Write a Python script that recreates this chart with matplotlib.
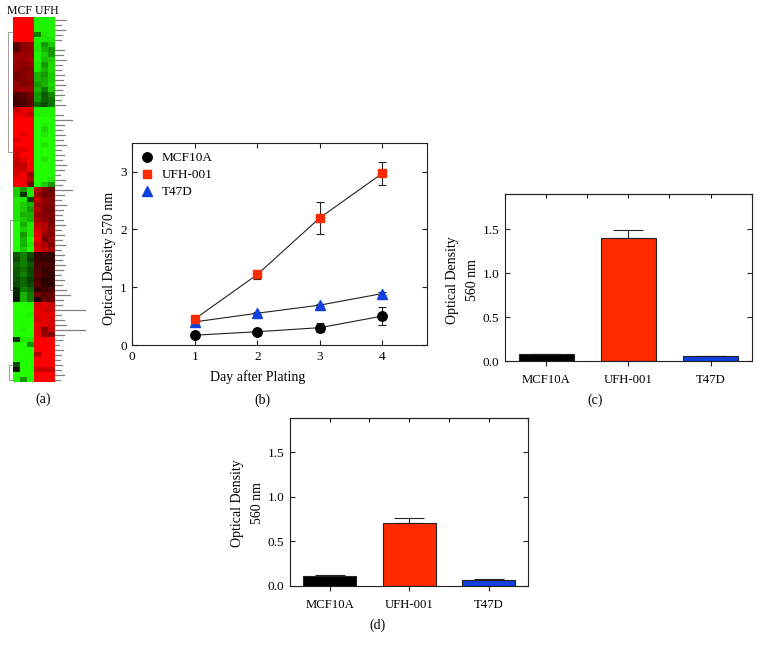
import matplotlib
matplotlib.use('Agg')
import matplotlib.pyplot as plt
from matplotlib.colors import LinearSegmentedColormap
from matplotlib.lines import Line2D

plt.rcParams['font.family'] = ['Liberation Serif', 'DejaVu Serif']
plt.rcParams['font.size'] = 9

W, H = 760, 651

# (a) heatmap, one row per 5 px, + is red, - is green
mcf_rows = [
    [1, 1, 1], [1, 1, 1], [1, 1, 1], [1, 1, 1], [1, 1, 1],
    [.35, .55, .6], [.3, .55, .6], [.6, .6, .6], [.6, .6, .65], [.6, .55, .6],
    [.55, .5, .5], [.45, .5, .55], [.5, .5, .55], [.6, .5, .55], [.6, .65, .6],
    [.3, .35, .45], [.25, .3, .4], [.25, .3, .4], [.8, .9, .9], [.9, .9, .75],
    [1, 1, 1], [1, 1, 1], [1, 1, 1], [1, .9, 1], [.9, 1, 1],
    [1, 1, 1], [.9, .9, 1], [.85, 1, 1], [.8, .9, 1], [.75, .75, 1],
    [.8, .8, .95], [.85, .95, .6], [.95, .95, .7], [1, .95, .4],
    [-.8, -.6, -.9], [-.8, -.2, -.9], [-.9, -.9, -.25],
    [-.9, -.8, -.7], [-.9, -.8, -.6], [-.9, -.7, -.7], [-.9, -.8, -.7],
    [-1, -.7, -.9], [-1, -.8, -.9], [-1, -.6, -.9], [-1, -.7, -1], [-1, -.7, -.9], [-1, -.8, -1],
    [-.35, -.5, -.3], [-.3, -.5, -.25], [-.4, -.5, -.35], [-.35, -.45, -.3], [-.35, -.5, -.3],
    [-.3, -.4, -.25], [-.3, -.4, -.3], [-.15, -.5, -.4], [-.15, -.7, -.5], [-.1, -.7, -.5],
    [-1, -1, -.95], [-1, -1, -1], [-1, -1, -.95], [-1, -1, -1], [-1, -1, -1], [-1, -.95, -1], [-1, -1, -1],
    [-.2, -.9, -.9], [-1, -1, -.6], [-1, -1, -1], [-1, -1, -1], [-1, -1, -1],
    [-.3, -1, -1], [-.1, -1, -1], [-1, -1, -1], [-1, -.6, -1],
]
ufh_rows = [
    [-.95, -.95, -.95], [-.95, -.95, -.95], [-.95, -.95, -.95], [-.5, -.9, -.95], [-.95, -.9, -.9],
    [-.9, -.6, -.8], [-.9, -.7, -.6], [-.95, -.8, -.6], [-.95, -.75, -.8], [-.9, -.6, -.85],
    [-.9, -.7, -.85], [-.7, -.6, -.8], [-.7, -.65, -.8], [-.6, -.7, -.85], [-.7, -.5, -.8],
    [-.6, -.35, -.55], [-.6, -.4, -.45], [-.4, -.3, -.45], [-.95, -.95, -.95], [-.95, -.95, -.95],
    [-1, -1, -1], [-1, -.95, -1], [-1, -.85, -1], [-1, -.9, -1], [-1, -1, -1],
    [-1, -.9, -1], [-1, -1, -1], [-1, -1, -1], [-1, -.9, -1], [-1, -1, -1],
    [-1, -1, -1], [-1, -1, -1], [-1, -1, -.9], [-1, -.8, -.6],
    [.7, .5, .4], [.6, .45, .45], [.75, .55, .5],
    [.6, .55, .5], [.7, .5, .45], [.6, .5, .5], [.65, .55, .45],
    [.75, .7, .5], [.85, .7, .55], [.9, .6, .5], [.95, .45, .6], [.8, .7, .5], [.85, .75, .65],
    [.2, .25, .2], [.25, .2, .2], [.3, .3, .25], [.3, .2, .25], [.35, .25, .2],
    [.3, .15, .2], [.35, .2, .15], [.2, .25, .3], [.45, .35, .4], [.15, .4, .4],
    [.85, .9, .8], [.9, .85, .8], [.9, .9, .9], [.85, .9, .85], [.9, .9, .85], [.9, .55, .8], [.9, .6, .5],
    [1, 1, 1], [1, 1, 1], [1, 1, 1], [.7, 1, 1], [1, 1, 1],
    [1, 1, 1], [.8, .8, .8], [1, 1, 1], [1, 1, 1],
]
# label blocks right of the heatmap are too small to read, so only their length is kept
label_lengths = [
    11, 6, 10, 7, 6, 0, 9, 8, 11, 7, 6, 9, 8, 10, 7, 9, 6, 10, 0, 8,
    17, 9, 7, 10, 8, 11, 6, 9, 7, 11, 9, 5, 10, 7,
    17, 9, 6, 11, 8, 7, 8, 10, 6, 9, 7, 10, 6, 9, 7, 10, 8, 6, 9, 7, 11, 15, 8,
    7, 30, 6, 9, 11, 30, 9, 7, 4, 8, 6, 5, 7, 6, 9, 5,
]
# dendrogram brackets, in heatmap columns and rows
dendro_x = [[-0.5, -1.1, -1.1, -0.5], [-0.5, -0.86, -0.86, -0.5], [-0.5, -1.0, -1.0, -0.5]]
dendro_y = [[2.5, 2.5, 26.5, 26.5], [40, 40, 54, 54], [69, 69, 72, 72]]

# (b) growth curves
days = [1, 2, 3, 4]
mcf_growth = [0.17, 0.23, 0.30, 0.50]
mcf_growth_err = [0.03, 0.04, 0.08, 0.15]
ufh_growth = [0.45, 1.22, 2.20, 2.97]
ufh_growth_err = [0.03, 0.07, 0.28, 0.20]
t47d_growth = [0.40, 0.55, 0.69, 0.89]
t47d_growth_err = [0.01, 0.02, 0.02, 0.02]

# (c), (d) bars
cell_lines = ['MCF10A', 'UFH-001', 'T47D']
c_values = [0.08, 1.40, 0.06]
c_errors = [0.005, 0.09, 0.005]
d_values = [0.11, 0.71, 0.065]
d_errors = [0.01, 0.05, 0.005]

RED = '#ff2a00'
BLUE = '#1040e0'
BAR_COLORS = ['black', RED, BLUE]
LW = 0.8


def px_axes(fig, left, top, right, bottom):
    return fig.add_axes([left / W, 1 - bottom / H, (right - left) / W, (bottom - top) / H])


def caption(fig, x, y, s):
    fig.text(x / W, 1 - y / H, s, ha='center', va='center', fontsize=10)


def style(ax):
    for sp in ax.spines.values():
        sp.set_linewidth(LW)
        sp.set_color('#222222')
    ax.tick_params(width=LW, length=3.5, labelsize=9.5, color='#222222', pad=4)


def bar_panel(ax, values, errors, ylim, label_xy):
    style(ax)
    ax.bar(range(3), values, width=0.67, color=BAR_COLORS, edgecolor='#222222', linewidth=LW,
           yerr=[[0, 0, 0], errors], error_kw=dict(ecolor='#222222', elinewidth=LW, capsize=11, capthick=LW))
    ax.set_xlim(-0.5, 2.5)
    ax.set_ylim(0, ylim)
    ax.set_yticks([0, 0.5, 1.0, 1.5])
    ax.set_yticklabels(['0.0', '0.5', '1.0', '1.5'])
    ax.set_xticks(range(3))
    ax.set_xticklabels(cell_lines, fontsize=9.2)
    ax.tick_params(axis='y', direction='in', left=True, right=True)
    ax.tick_params(axis='x', direction='out', bottom=True, pad=6)
    ax.secondary_xaxis('top').tick_params(direction='in', labeltop=False, width=LW, length=3)
    ax.set_ylabel('Optical Density\n560 nm', fontsize=10, linespacing=1.7, ha='center')
    ax.yaxis.set_label_coords(*label_xy)


fig = plt.figure(figsize=(W / 100, H / 100), dpi=100)

# panel a
cmap = LinearSegmentedColormap.from_list('rbg', ['#22ff00', 'black', '#ff0000'])
ax = px_axes(fig, 12.5, 17.3, 54, 382)
rows = [m + u for m, u in zip(mcf_rows, ufh_rows)]
ax.imshow(rows, cmap=cmap, vmin=-1, vmax=1, aspect='auto', interpolation='nearest')
for i, n in enumerate(label_lengths):
    if n:
        # 6 columns wide over 41.5 px
        ax.plot([5.65, 5.65 + n * 6 / 41.5], [i, i], color='#808080', lw=0.9, clip_on=False)
for xs, ys in zip(dendro_x, dendro_y):
    ax.plot(xs, ys, color='#777777', lw=0.5, clip_on=False)
ax.set_xlim(-0.5, 5.5)
ax.set_ylim(72.5, -0.5)
ax.axis('off')
fig.text(33 / W, 1 - 10.5 / H, 'MCF UFH', ha='center', va='center', fontsize=8.5)
caption(fig, 43, 399, '(a)')

# panel b
ax = px_axes(fig, 132.3, 143.3, 426.7, 345)
style(ax)
err_kw = dict(ecolor='#222222', elinewidth=LW, capsize=3, capthick=LW, color='#222222', lw=LW)
ax.errorbar(days, mcf_growth, yerr=mcf_growth_err, marker='o', ms=6.8, mfc='black', mec='black',
            zorder=2, **err_kw)
ax.errorbar(days, t47d_growth, yerr=t47d_growth_err, marker='^', ms=7, mfc=BLUE, mec=BLUE,
            zorder=2, **err_kw)
ax.errorbar(days, ufh_growth, yerr=ufh_growth_err, marker='s', ms=6.2, mfc=RED, mec=RED,
            zorder=3, **err_kw)
ax.set_xlim(0, 4.71)
ax.set_ylim(0, 3.49)
ax.set_xticks([0, 1, 2, 3, 4])
ax.set_yticks([0, 1, 2, 3])
ax.tick_params(direction='in', top=True, right=True)
ax.set_xlabel('Day after Plating', fontsize=10)
ax.xaxis.set_label_coords(0.426, -0.125)
ax.set_ylabel('Optical Density 570 nm', fontsize=10)
ax.yaxis.set_label_coords(-0.056, 0.431)
hs = [Line2D([], [], ls='none', marker='o', ms=6.8, color='black'),
      Line2D([], [], ls='none', marker='s', ms=6.2, color=RED),
      Line2D([], [], ls='none', marker='^', ms=7, color=BLUE)]
ax.legend(hs, cell_lines, loc='upper left', frameon=False, fontsize=9.5, bbox_to_anchor=(0.0, 0.995),
          handletextpad=0.65, labelspacing=0.36, handlelength=1.0, borderaxespad=0.2, numpoints=1)
caption(fig, 262, 400, '(b)')

# panel c
ax = px_axes(fig, 505, 194.3, 751.7, 361.3)
bar_panel(ax, c_values, c_errors, 1.9, (-0.106, 0.487))
caption(fig, 595, 400, '(c)')

# panel d
ax = px_axes(fig, 290, 417.7, 528.3, 585.7)
bar_panel(ax, d_values, d_errors, 1.89, (-0.11, 0.489))
caption(fig, 377, 625, '(d)')

fig.savefig('out.png', dpi=100)
